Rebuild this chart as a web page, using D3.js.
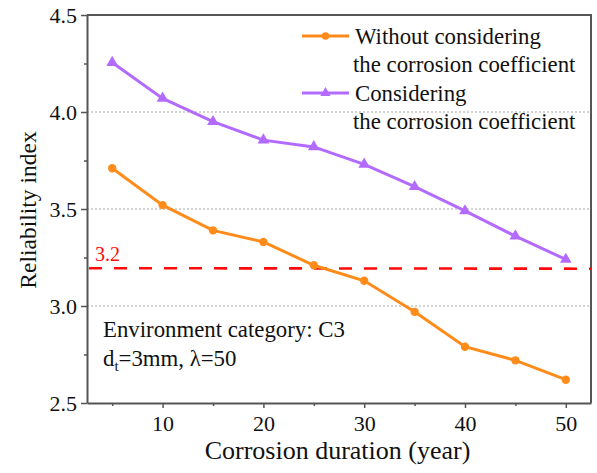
<!DOCTYPE html>
<html>
<head>
<meta charset="utf-8">
<script src="https://cdn.jsdelivr.net/npm/d3@7"></script>
<style>
  body { margin: 0; background: #fff; }
  svg text { font-family: "Liberation Serif", "Times New Roman", serif; fill: #111; }
</style>
</head>
<body>
<svg id="chart" width="597" height="473"></svg>
<script>
// corrosion duration (year)
const years = [5, 10, 15, 20, 25, 30, 35, 40, 45, 50];
// reliability index
const withoutCoef = [3.71, 3.52, 3.39, 3.33, 3.21, 3.13, 2.97, 2.79, 2.72, 2.62];
const withCoef = [4.255, 4.07, 3.95, 3.855, 3.82, 3.73, 3.615, 3.49, 3.36, 3.24];
const refLine = 3.2;
const xTicks = [10, 20, 30, 40, 50];
const yTicks = [2.5, 3.0, 3.5, 4.0, 4.5];
const gridVals = [3.0, 3.5, 4.0];

const svg = d3.select("#chart");
const W = 597, H = 473;
const margin = { top: 15, right: 6, bottom: 70, left: 87 };

const x = d3.scaleLinear().domain([2.5, 52.5]).range([margin.left, W - margin.right]);
const y = d3.scaleLinear().domain([2.5, 4.5]).range([H - margin.bottom, margin.top]);

const axisColor = "#555";
const orange = "#ff8c1a";
const purple = "#b36bff";

// grid
svg.append("g").selectAll("line").data(gridVals).join("line")
  .attr("x1", x(2.5)).attr("x2", x(52.5))
  .attr("y1", d => y(d)).attr("y2", d => y(d))
  .attr("stroke", "#aaa").attr("stroke-width", 1.2)
  .attr("stroke-dasharray", "2,2");

// minor ticks
const xAxisMinor = d3.axisBottom(x).tickValues(d3.range(5, 55, 10)).tickSize(3).tickFormat("");
const yAxisMinor = d3.axisLeft(y).tickValues([2.75, 3.25, 3.75, 4.25]).tickSize(3).tickFormat("");

const gxm = svg.append("g").attr("transform", `translate(0,${y(2.5)})`).call(xAxisMinor);
const gym = svg.append("g").attr("transform", `translate(${x(2.5)},0)`).call(yAxisMinor);
[gxm, gym].forEach(g => {
  g.select(".domain").remove();
  g.selectAll("line").attr("stroke", axisColor).attr("stroke-width", 1.5);
});

// major axes
const gx = svg.append("g").attr("transform", `translate(0,${y(2.5)})`)
  .call(d3.axisBottom(x).tickValues(xTicks).tickSize(5).tickPadding(7).tickSizeOuter(0));
const gy = svg.append("g").attr("transform", `translate(${x(2.5)},0)`)
  .call(d3.axisLeft(y).tickValues(yTicks).tickSize(6).tickPadding(4).tickSizeOuter(0).tickFormat(d3.format(".1f")));
[gx, gy].forEach(g => {
  g.select(".domain").attr("stroke", axisColor).attr("stroke-width", 2);
  g.selectAll(".tick line").attr("stroke", axisColor).attr("stroke-width", 1.5);
  g.selectAll(".tick text").attr("font-size", 22).attr("fill", "#111");
});
gy.selectAll(".tick text").attr("dy", "0.34em");

// frame top/right
svg.append("path")
  .attr("d", `M${x(2.5)},${y(4.5)}H${x(52.5)}V${y(2.5)}`)
  .attr("fill", "none").attr("stroke", axisColor).attr("stroke-width", 2);

// reference line
svg.append("line")
  .attr("x1", x(2.5) + 2).attr("x2", x(52.5))
  .attr("y1", y(refLine) + 1).attr("y2", y(refLine) + 1.5)
  .attr("stroke", "#ff0a0a").attr("stroke-width", 2.6)
  .attr("stroke-dasharray", "13,12");
svg.append("text")
  .attr("x", x(2.5) + 8).attr("y", y(refLine) - 6)
  .attr("font-size", 20).style("fill", "#ff0a0a")
  .text(refLine.toFixed(1));

const line = d3.line().x(d => x(d[0])).y(d => y(d[1]));

function drawSeries(vals, color, marker) {
  const pts = years.map((yr, i) => [yr, vals[i]]);
  svg.append("path").datum(pts)
    .attr("d", line).attr("fill", "none")
    .attr("stroke", color).attr("stroke-width", 3);
  svg.append("g").selectAll("path").data(pts).join("path")
    .attr("transform", d => `translate(${x(d[0])},${y(d[1])})`)
    .attr("d", d3.symbol().type(marker).size(marker === d3.symbolCircle ? 55 : 60))
    .attr("fill", color);
}

drawSeries(withoutCoef, orange, d3.symbolCircle);
drawSeries(withCoef, purple, d3.symbolTriangle);

// legend
const legend = [
  { color: orange, marker: d3.symbolCircle, lines: ["Without considering", "the corrosion coefficient"], y: 36 },
  { color: purple, marker: d3.symbolTriangle, lines: ["Considering", "the corrosion coefficient"], y: 93 }
];
legend.forEach(l => {
  const g = svg.append("g");
  g.append("line").attr("x1", 302).attr("x2", 349).attr("y1", l.y).attr("y2", l.y)
    .attr("stroke", l.color).attr("stroke-width", 3);
  g.append("path").attr("transform", `translate(325.5,${l.y})`)
    .attr("d", d3.symbol().type(l.marker).size(45)).attr("fill", l.color);
  g.append("text").attr("x", 355).attr("y", l.y + 7.5).attr("font-size", 22.8).text(l.lines[0]);
  g.append("text").attr("x", 353).attr("y", l.y + 35.5).attr("font-size", 22.8).text(l.lines[1]);
});

// annotation
svg.append("text").attr("x", 103).attr("y", 337).attr("font-size", 22.8)
  .text("Environment category: C3");
const t2 = svg.append("text").attr("x", 103).attr("y", 366).attr("font-size", 22.8);
t2.append("tspan").text("d");
t2.append("tspan").attr("font-size", 15).attr("dy", 5).text("t");
t2.append("tspan").attr("dy", -5).text("=3mm, λ=50");

// axis titles
svg.append("text")
  .attr("x", 337.5).attr("y", 459)
  .attr("text-anchor", "middle").attr("font-size", 26)
  .text("Corrosion duration (year)");
svg.append("text")
  .attr("transform", `translate(36,210) rotate(-90)`)
  .attr("text-anchor", "middle").attr("font-size", 23.5)
  .text("Reliability index");
</script>
</body>
</html>
